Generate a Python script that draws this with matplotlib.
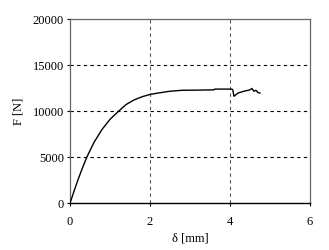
import numpy as np
import matplotlib.pyplot as plt

plt.rcParams['font.family'] = ['Liberation Serif', 'DejaVu Serif']

delta = [0, 0.1, 0.2, 0.3, 0.42, 0.6, 0.8, 1.0, 1.22, 1.4, 1.6, 1.8, 2.0, 2.2,
         2.5, 2.8, 3.2, 3.6, 3.62, 4.05, 4.07, 4.1, 4.2, 4.35, 4.5, 4.55, 4.6,
         4.65, 4.7, 4.75]
force = [0, 1300, 2550, 3700, 5000, 6600, 8000, 9100, 10000, 10700, 11200,
         11550, 11800, 11950, 12150, 12250, 12270, 12300, 12380, 12380, 12300,
         11600, 11950, 12150, 12300, 12450, 12150, 12250, 12000, 11950]

fig = plt.figure(figsize=(3.29, 2.5), dpi=100)
ax = fig.add_axes([0.213, 0.188, 0.729, 0.736])
ax.plot(delta, force, color='black', lw=1.0, zorder=3)

ax.set_xlim(0, 6)
ax.set_ylim(0, 20000)
ax.set_xticks([0, 2, 4, 6])
ax.set_yticks([0, 5000, 10000, 15000, 20000])
for v in [5000, 10000, 15000]:
    ax.axhline(v, color='black', lw=0.8, ls=(0, (3, 3)))
for v in [2, 4]:
    ax.axvline(v, color='#555555', lw=0.8, ls=(0, (3, 3)))

for s in ['top', 'right', 'left']:
    ax.spines[s].set_color('#666666')
    ax.spines[s].set_linewidth(0.9)
ax.spines['bottom'].set_color('black')
ax.spines['bottom'].set_linewidth(1.0)
ax.tick_params(axis='y', labelsize=9, length=2.5, width=0.8, pad=2)
ax.tick_params(axis='x', labelsize=9, length=2.5, width=0.8, pad=7)

ax.set_xlabel('δ [mm]', fontsize=9, labelpad=3)
ax.set_ylabel('F [N]', fontsize=9, labelpad=6)

fig.savefig('out.png', dpi=100)
